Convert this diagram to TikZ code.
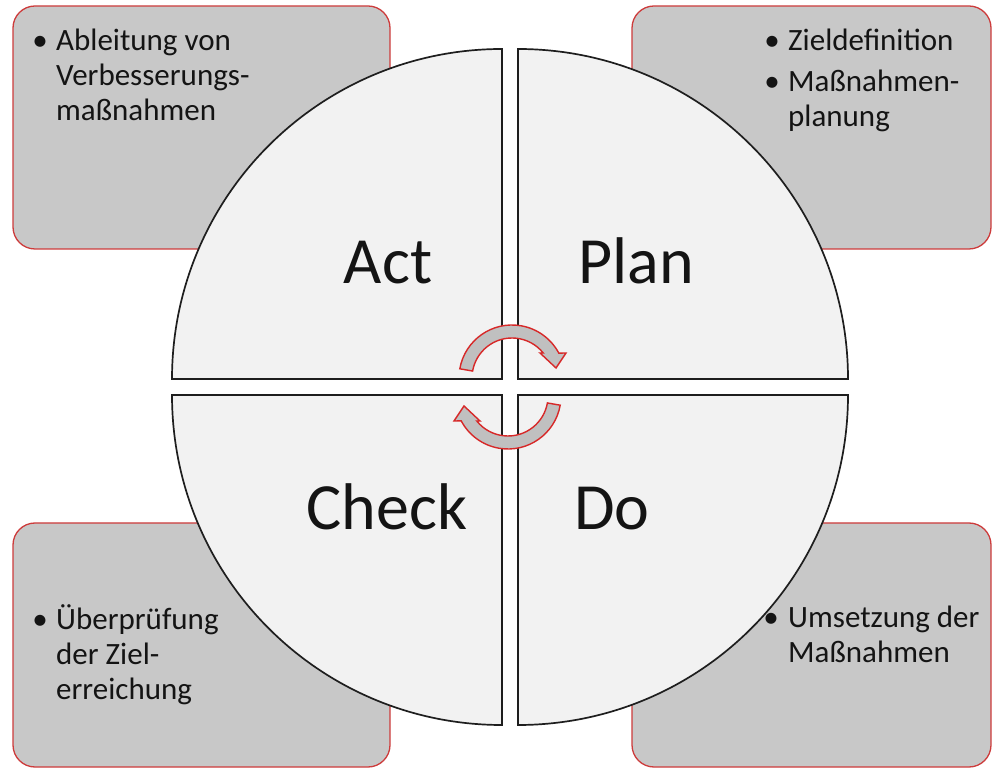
\documentclass[tikz,border=0pt]{standalone}
\usepackage{fontspec}
\setmainfont{Carlito}
\definecolor{boxfill}{RGB}{200,200,200}
\definecolor{boxline}{RGB}{205,60,60}
\definecolor{quadfill}{RGB}{242,242,242}
\definecolor{quadline}{RGB}{30,30,30}
\definecolor{arrfill}{RGB}{192,192,192}
\definecolor{arrline}{RGB}{215,40,40}
\definecolor{txt}{RGB}{20,20,20}
\newcommand{\lines}[1]{\begin{tabular}[t]{@{}l@{}}#1\end{tabular}}
\tikzset{
  infobox/.style={fill=boxfill,draw=boxline,line width=1.3pt,rounded corners=22pt},
  quad/.style={fill=quadfill,draw=quadline,line width=1.7pt,line join=miter},
  biglabel/.style={anchor=base,inner sep=0pt,text=txt,font=\fontsize{66}{70}\selectfont},
  smalltext/.style={anchor=base west,inner sep=0pt,text=txt,font=\fontsize{31}{35}\selectfont},
  bul/.style={anchor=base,inner sep=0pt,text=txt,font=\fontsize{31}{35}\selectfont},
  cyc/.pic={
    \path[fill=arrfill,draw=arrline,line width=1.4pt,line join=miter]
      (170:53) arc[start angle=170,end angle=28,radius=53]
      -- (54,25) -- (44,10) -- (28,25) -- (38.7:40)
      arc[start angle=38.7,end angle=170,radius=40] -- cycle;
  }
}
\begin{document}
\begin{tikzpicture}[x=1pt,y=1pt]
\useasboundingbox (0,0) rectangle (992,768);
\fill[white] (0,0) rectangle (992,768);
% corner boxes
\draw[infobox] (13,519) rectangle (390,762);
\draw[infobox] (632,519) rectangle (991,762);
\draw[infobox] (13,1) rectangle (390,245);
\draw[infobox] (632,1) rectangle (991,245);
% quadrants
\draw[quad] (502,389) -- (172,389) arc[start angle=180,end angle=90,radius=330] -- cycle;
\draw[quad] (518,389) -- (518,719) arc[start angle=90,end angle=0,radius=330] -- cycle;
\draw[quad] (502,373) -- (502,43) arc[start angle=270,end angle=180,radius=330] -- cycle;
\draw[quad] (518,373) -- (848,373) arc[start angle=0,end angle=-90,radius=330] -- cycle;
% cycle arrows
\pic at (512,390) {cyc};
\pic[rotate=180] at (508,372) {cyc};
% big labels
\node[biglabel] (act) at (388,484) {Act};
\node[biglabel] (plan) at (636,484) {Plan};
\node[biglabel] (check) at (387,238) {Check};
\node[biglabel] (do) at (612,238) {Do};
% box texts
\node[bul] (b1) at (40,717) {•};
\node[smalltext] (t1) at (56,717) {\lines{Ableitung von\\Verbesserungs-\\maßnahmen}};
\node[bul] (b2) at (772,717) {•};
\node[smalltext] (t2) at (788,717) {Zieldefinition};
\node[bul] (b3) at (772,676) {•};
\node[smalltext] (t3) at (788,676) {\lines{Maßnahmen-\\planung}};
\node[bul] (b4) at (40,139) {•};
\node[smalltext] (t4) at (56,139) {\lines{Überprüfung\\der Ziel-\\erreichung}};
\node[bul] (b5) at (771,140) {•};
\node[smalltext] (t5) at (788,140) {\lines{Umsetzung der\\Maßnahmen}};
\end{tikzpicture}
\end{document}
